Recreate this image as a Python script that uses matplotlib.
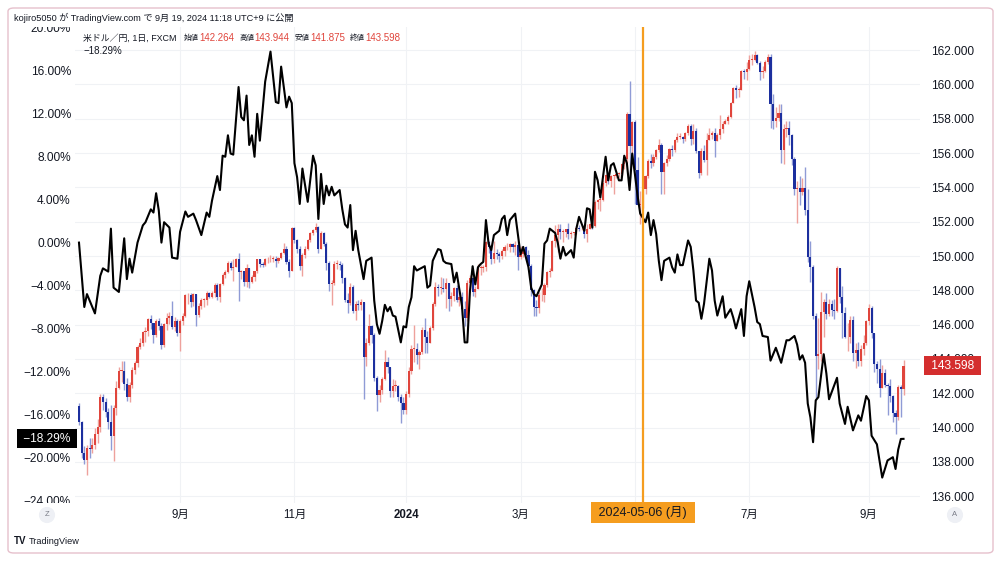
import numpy as np
import pandas as pd
import matplotlib
matplotlib.use("Agg")
import matplotlib.pyplot as plt
import matplotlib.transforms as mtransforms
from matplotlib.patches import Rectangle, FancyBboxPatch

FONTS = ["Liberation Sans", "Noto Sans CJK JP", "DejaVu Sans"]
plt.rcParams["font.family"] = FONTS

# ---------------- data ----------------
start_date = "2023-07-11"
end_date = "2024-09-19"
closed_days = ["2023-12-25", "2024-01-01"]

# USD/JPY daily (FXCM) close / high / low, one row per week
close = [
    140.30, 138.50, 138.10, 138.80,
    138.75, 139.00, 139.65, 140.05, 141.80,
    141.50, 140.90, 140.30, 139.50, 141.15,
    142.30, 143.30, 143.30, 142.55, 141.75,
    142.45, 143.35, 143.75, 144.70, 144.95,
    145.55, 145.60, 146.35, 146.10, 145.40,
    146.20, 145.90, 144.80, 146.05, 146.40,
    146.50, 145.85, 146.20, 145.50, 146.20,
    146.50, 147.70, 147.70, 147.30, 147.80,
    146.55, 147.10, 147.45, 147.45, 147.85,
    147.60, 147.85, 148.30, 147.60, 148.35,
    148.90, 149.05, 149.60, 149.30, 149.35,
    149.85, 149.05, 149.10, 148.50, 149.30,
    148.50, 148.75, 149.10, 149.80, 149.55,
    149.50, 149.80, 149.80, 149.85, 149.85,
    149.70, 149.90, 150.20, 150.40, 149.65,
    149.10, 151.65, 150.95, 150.40, 149.40,
    150.05, 150.40, 150.95, 151.35, 151.50,
    151.70, 150.40, 151.35, 150.70, 149.60,
    148.35, 148.40, 149.55, 149.55, 149.45,
    148.70, 147.45, 147.25, 148.20, 146.80,
    147.20, 147.15, 147.30, 144.10, 144.90,
    145.90, 145.40, 142.90, 141.90, 142.20,
    142.80, 143.80, 143.50, 142.15, 142.40,
    142.40, 141.80, 141.40, 141.00,
    141.95, 143.30, 144.60, 144.60,
    144.25, 144.40, 145.70, 145.30, 144.90,
    145.80, 147.20, 148.20, 148.15, 148.15,
    148.10, 148.40, 147.50, 147.65, 148.15,
    147.45, 147.60, 146.90, 146.40, 148.40,
    148.70, 147.90, 148.10, 149.30, 149.30,
    149.35, 150.80, 150.55, 149.80, 150.20,
    150.10, 150.00, 150.30, 150.50, 150.50,
    150.70, 150.50, 150.65, 149.95, 150.10,
    150.50, 150.05, 149.40, 148.00, 147.05,
    146.95, 147.70, 147.75, 148.30, 149.05,
    149.15, 150.85, 151.25, 151.60, 151.40,
    151.40, 151.55, 151.30, 151.35, 151.35,
    151.65, 151.55, 151.60, 151.30, 151.60,
    151.85, 151.75, 153.15, 153.25, 153.25,
    154.25, 154.70, 154.35, 154.65, 154.65,
    154.80, 154.80, 155.35, 155.65, 158.30,
    156.40, 157.80, 155.00, 153.00, 153.00,
    153.90, 154.65, 155.55, 155.45, 155.75,
    156.20, 156.45, 154.90, 155.40, 155.65,
    156.25, 156.20, 156.75, 156.95, 156.95,
    156.85, 157.15, 157.60, 156.80, 157.30,
    156.10, 154.85, 156.10, 155.60, 156.75,
    157.05, 157.20, 156.70, 157.05, 157.40,
    157.70, 157.85, 158.10, 158.95, 159.80,
    159.70, 159.70, 160.80, 160.75, 160.90,
    161.45, 161.45, 161.70, 161.25, 160.70,
    160.80, 161.30, 161.60, 158.85, 157.90,
    158.05, 158.35, 156.20, 157.40, 157.45,
    157.05, 155.65, 153.90, 153.95, 153.75,
    153.95, 152.70, 149.95, 149.35, 146.50,
    144.15, 144.30, 146.75, 147.30, 146.60,
    147.20, 146.85, 146.80, 149.30, 147.60,
    146.65, 145.25, 145.25, 146.25, 144.35,
    144.50, 143.90, 144.60, 144.95, 146.20,
    146.95, 145.50, 143.70, 143.40, 142.30,
    143.15, 142.45, 142.40, 141.85, 140.85,
    140.60, 142.35, 142.26, 143.598,
]
high = [
    141.40, 140.40, 138.90, 139.00,
    139.40, 139.40, 139.95, 140.50, 141.95,
    141.95, 141.70, 141.15, 141.30, 141.30,
    142.70, 143.55, 143.90, 143.90, 142.90,
    142.65, 143.50, 143.90, 144.80, 145.20,
    145.60, 145.85, 146.40, 146.55, 146.10,
    146.30, 146.40, 146.10, 146.10, 146.65,
    146.75, 147.35, 146.45, 146.30, 146.30,
    146.70, 147.80, 147.85, 147.85, 147.85,
    147.45, 147.25, 147.55, 147.55, 147.95,
    147.90, 147.95, 148.45, 148.45, 148.45,
    149.00, 149.20, 149.70, 149.70, 149.80,
    149.90, 150.15, 149.20, 149.05, 149.55,
    149.20, 148.90, 149.15, 149.85, 149.85,
    149.65, 149.90, 149.95, 150.05, 150.00,
    150.00, 149.95, 150.25, 150.75, 150.60,
    149.80, 151.70, 151.70, 151.00, 150.60,
    150.15, 150.60, 151.00, 151.40, 151.60,
    151.90, 151.75, 151.45, 151.40, 150.80,
    149.70, 148.60, 149.70, 149.75, 149.70,
    149.60, 148.80, 147.85, 148.40, 148.30,
    147.35, 147.45, 147.50, 147.30, 145.20,
    146.60, 146.00, 145.50, 143.00, 142.50,
    142.95, 144.50, 144.10, 143.55, 142.80,
    142.75, 142.45, 141.95, 141.75,
    142.15, 143.55, 144.80, 145.98,
    144.90, 144.50, 145.85, 146.40, 145.60,
    145.90, 147.30, 148.50, 148.35, 148.80,
    148.70, 148.70, 148.20, 147.90, 148.20,
    148.30, 147.90, 147.90, 147.40, 148.60,
    148.90, 148.80, 148.25, 149.55, 149.45,
    149.50, 150.90, 150.85, 150.60, 150.85,
    150.40, 150.25, 150.40, 150.65, 150.75,
    150.75, 150.75, 150.85, 150.85, 150.60,
    150.55, 150.60, 150.35, 149.55, 148.10,
    147.45, 147.90, 148.15, 148.40, 149.15,
    149.30, 150.95, 151.80, 151.85, 151.85,
    151.55, 151.60, 151.95, 151.45, 151.40,
    151.75, 151.80, 151.75, 151.70, 151.85,
    151.95, 151.90, 153.25, 153.30, 153.40,
    154.45, 154.80, 154.75, 154.70, 154.70,
    154.85, 154.90, 155.40, 155.75, 158.40,
    160.20, 157.85, 157.95, 155.80, 153.80,
    154.00, 154.75, 155.65, 155.95, 155.95,
    156.25, 156.80, 156.60, 155.50, 155.90,
    156.30, 156.45, 156.85, 157.20, 157.15,
    157.00, 157.25, 157.70, 157.70, 157.70,
    157.45, 156.15, 156.30, 156.50, 157.15,
    157.45, 157.30, 157.45, 157.20, 158.25,
    157.85, 158.00, 158.20, 159.00, 159.85,
    159.95, 159.85, 160.85, 160.90, 161.30,
    161.70, 161.75, 161.95, 161.75, 161.35,
    161.05, 161.40, 161.80, 161.75, 159.45,
    158.70, 158.85, 158.85, 157.70, 157.85,
    157.85, 157.10, 155.75, 154.40, 154.65,
    154.55, 155.20, 153.90, 150.90, 149.50,
    146.70, 146.40, 147.90, 147.50, 147.85,
    147.50, 147.45, 147.50, 149.40, 149.20,
    148.25, 147.00, 146.10, 146.50, 146.50,
    144.90, 145.00, 144.80, 145.40, 146.25,
    147.20, 147.10, 145.45, 143.85, 144.00,
    143.65, 143.40, 142.60, 142.85, 141.90,
    141.00, 142.45, 142.50, 143.944,
]
low = [
    140.15, 138.20, 137.90, 137.25,
    138.20, 138.50, 138.75, 139.10, 139.75,
    141.00, 140.60, 139.90, 138.70, 138.05,
    140.70, 142.25, 142.65, 142.20, 141.55,
    141.50, 142.30, 143.10, 143.50, 144.55,
    144.75, 145.00, 145.35, 145.75, 144.95,
    145.30, 145.70, 144.55, 144.70, 145.70,
    146.05, 145.75, 145.60, 145.35, 144.45,
    145.95, 146.45, 147.20, 147.00, 147.10,
    145.90, 146.45, 146.90, 147.05, 147.15,
    147.55, 147.55, 147.60, 147.45, 147.30,
    148.30, 148.70, 149.00, 149.20, 148.55,
    149.35, 147.40, 148.65, 148.25, 148.20,
    148.15, 148.40, 148.55, 149.00, 149.35,
    149.35, 149.40, 149.60, 149.65, 149.65,
    149.35, 149.60, 149.80, 150.10, 149.55,
    148.80, 149.20, 150.75, 150.15, 149.20,
    148.85, 149.90, 150.35, 150.80, 151.20,
    151.40, 150.15, 150.45, 150.60, 149.20,
    147.95, 147.15, 148.30, 149.25, 149.20,
    148.45, 147.30, 146.70, 147.15, 146.70,
    146.25, 146.85, 146.85, 141.65, 143.60,
    144.80, 144.95, 142.70, 140.95, 141.50,
    141.95, 142.75, 143.15, 141.80, 141.75,
    142.10, 141.55, 140.25, 140.80,
    140.80, 141.80, 143.10, 143.80,
    143.70, 143.40, 144.30, 144.35, 144.35,
    144.90, 145.70, 147.10, 147.65, 147.80,
    147.90, 146.95, 146.80, 147.10, 147.40,
    147.30, 147.10, 146.55, 145.90, 146.20,
    148.05, 147.65, 147.60, 148.05, 148.90,
    149.05, 149.15, 150.20, 149.55, 149.60,
    149.85, 149.65, 149.80, 150.00, 150.35,
    150.25, 150.25, 150.05, 149.20, 149.85,
    149.95, 149.85, 149.25, 147.65, 146.50,
    146.50, 146.65, 147.35, 147.30, 148.20,
    148.80, 149.15, 150.55, 150.25, 151.00,
    150.80, 151.10, 151.00, 151.05, 151.20,
    151.30, 151.45, 151.50, 151.05, 150.80,
    151.55, 151.60, 151.70, 152.75, 152.60,
    153.20, 154.10, 154.20, 154.05, 153.60,
    154.55, 154.60, 154.75, 155.10, 155.40,
    154.55, 155.70, 153.05, 152.95, 151.85,
    152.80, 153.60, 154.55, 155.15, 155.25,
    155.65, 156.05, 153.60, 153.60, 155.25,
    155.55, 155.85, 156.05, 156.65, 156.80,
    156.60, 156.70, 157.05, 156.45, 156.55,
    156.00, 154.55, 154.75, 155.50, 154.75,
    156.80, 156.80, 155.75, 156.75, 156.85,
    157.15, 157.70, 157.70, 158.05, 158.90,
    159.20, 159.30, 159.65, 160.30, 160.25,
    160.85, 161.15, 161.35, 161.20, 160.25,
    160.40, 160.75, 161.20, 157.45, 157.40,
    157.55, 157.85, 155.40, 155.35, 156.95,
    156.50, 155.30, 153.55, 151.95, 153.00,
    153.55, 152.40, 149.65, 148.50, 146.30,
    141.70, 143.40, 143.85, 145.30, 146.30,
    146.50, 146.50, 146.30, 146.75, 147.25,
    145.20, 145.20, 144.45, 144.95, 143.85,
    143.45, 143.60, 143.60, 144.25, 144.80,
    145.95, 145.20, 143.25, 142.60, 141.75,
    142.40, 142.35, 140.70, 141.50, 140.30,
    139.60, 140.45, 140.60, 141.875,
]
first_open = 141.25
last_open = 142.264

# comparison symbol (% change), trading-day number -> value
cmp_bar = [0, 2, 3, 6, 8, 9, 11, 12, 13, 15, 17, 18, 19, 20, 22, 24, 25, 27, 28, 29,
           30, 31, 32, 34, 35, 37, 38, 40, 41, 43, 44, 46, 48, 49, 50, 52, 53, 54, 55, 56,
           57, 58, 60, 61, 62, 63, 64, 65, 66, 67, 68, 70, 72, 74, 75, 76, 78, 79, 80, 81,
           82, 83, 84, 86, 88, 89, 90, 91, 92, 93, 94, 95, 96, 98, 99, 100, 101, 102, 103, 104,
           105, 107, 108, 110, 111, 112, 113, 114, 115, 116, 117, 118, 119, 121, 122, 123, 124, 125, 126, 127,
           130, 131, 132, 133, 135, 136, 137, 138, 140, 141, 142, 144, 145, 146, 147, 148, 149, 150, 151, 152,
           153, 154, 155, 156, 158, 159, 160, 161, 162, 164, 165, 166, 167, 169, 170, 171, 172, 174, 175, 176,
           177, 179, 180, 181, 182, 183, 185, 186, 187, 188, 190, 191, 192, 193, 194, 195, 196, 198, 199, 200,
           201, 203, 204, 205, 206, 207, 208, 209, 210, 211, 213, 214, 215, 216, 217, 218, 219, 220, 222, 223,
           224, 225, 226, 227, 229, 230, 231, 232, 233, 234, 235, 237, 238, 239, 240, 242, 243, 245, 246, 247,
           249, 250, 251, 252, 254, 255, 256, 257, 259, 260, 262, 264, 266, 267, 269, 270, 271, 272, 273, 274,
           275, 276, 277, 278, 280, 281, 282, 285, 286, 288, 289, 291, 293, 294, 296, 297, 298, 300, 302, 304,
           306, 307, 308, 309, 310]
cmp_pct = [0.0, -6.0, -4.8, -6.6, -3.1, -2.4, -2.7, 1.3, -4.2, -4.6, 0.4, -3.4, -1.5, -2.8, 0.0, 1.6, 1.9, 3.1, 2.8, 4.6,
           3.0, 0.0, 1.9, 1.4, -1.4, -1.5, 1.0, 2.9, 2.4, 2.7, 2.1, 0.7, 2.8, 2.4, 3.9, 6.2, 4.9, 8.1, 8.0, 10.0,
           8.3, 8.2, 14.5, 11.7, 11.4, 13.7, 9.1, 10.0, 8.0, 12.0, 9.5, 15.0, 17.8, 13.1, 13.0, 16.4, 12.6, 13.6, 13.0, 7.4,
           6.1, 3.6, 6.9, 3.8, 8.1, 7.2, 2.2, 6.4, 3.6, 5.3, 4.4, 5.2, 4.4, 4.9, 3.1, 1.7, 1.4, 3.5, -0.7, 1.1,
           -0.7, -3.4, -1.7, -1.4, -5.4, -7.6, -8.5, -7.3, -5.8, -6.4, -6.0, -6.8, -6.9, -9.3, -7.8, -7.9, -6.0, -5.1, -2.2, -2.6,
           -2.2, -4.2, -4.0, -1.7, -0.6, -0.7, -1.7, -1.9, -2.0, -3.7, -2.8, -5.9, -9.3, -9.3, -4.5, -2.2, -3.9, -2.3, -2.0, -1.8,
           2.1, -0.1, -0.7, 0.7, 1.1, 2.2, 2.5, 0.7, 2.1, 2.7, 0.8, -1.1, -0.4, -2.3, -4.2, -4.8, -5.0, -3.9, -0.1, 0.2,
           1.3, 0.9, 0.0, -1.5, -0.4, -1.2, -0.7, -1.4, 1.3, 2.4, 1.1, 3.2, 3.1, 1.4, 6.6, 5.8, 4.2, 8.0, 5.8, 7.2,
           7.4, 5.8, 5.8, 8.1, 7.4, 4.9, 8.3, 6.4, 4.4, 2.7, 1.9, 2.8, 0.7, 2.1, 0.8, -1.7, -3.5, -1.7, -1.4, -2.3,
           -2.8, -1.1, -2.1, -2.1, 0.2, -0.4, -2.6, -5.4, -5.6, -7.1, -5.7, -1.5, -2.6, -5.4, -6.8, -5.0, -7.0, -6.2, -7.0, -8.0,
           -6.2, -8.7, -5.0, -3.6, -6.0, -7.4, -7.6, -8.7, -8.8, -11.0, -9.8, -11.2, -9.1, -9.1, -8.7, -9.5, -10.9, -10.5, -11.2, -15.0,
           -16.3, -18.6, -14.7, -14.4, -10.4, -12.2, -14.6, -12.6, -15.0, -16.9, -15.3, -17.5, -16.1, -16.6, -14.3, -14.7, -18.0, -18.8, -21.9, -20.3,
           -20.0, -21.1, -19.3, -18.3, -18.29]

pct_ticks = list(range(-24, 21, 4))
price_ticks = list(range(136, 163, 2))
month_starts = ["2023-09", "2023-11", "2024-01", "2024-03", "2024-05", "2024-07", "2024-09"]
month_labels = ["9月", "11月", "2024", "3月", "5月", "7月", "9月"]
marker_date = "2024-05-06"
marker_label = " 2024-05-06 (月) "
header_text = "kojiro5050 が TradingView.com で 9月 19, 2024 11:18 UTC+9 に公開"
symbol_text = "米ドル／円, 1日, FXCM"
ohlc_names = ["始値", "高値", "安値", "終値"]
ohlc_values = ["142.264", "143.944", "141.875", "143.598"]
cmp_label = "−18.29%"
price_label = "143.598"

# ---------------- colours ----------------
UP, DOWN = "#e0453c", "#1c2f9e"
UP_W, DOWN_W = "#eea19c", "#8f9bd6"
TXT = "#131722"
ORANGE = "#f59d1f"
GRID = "#f0f2f5"

# ---------------- build ----------------
dates = pd.bdate_range(start_date, end_date)
dates = dates[~dates.isin(pd.to_datetime(closed_days))]
n = min(len(dates), len(close), len(high), len(low))
dates = dates[:n]
c = np.array(close[:n])
o = np.concatenate([[first_open], c[:-1]])
o[-1] = last_open
h = np.maximum(np.array(high[:n]), np.maximum(o, c))
l = np.minimum(np.array(low[:n]), np.minimum(o, c))
idx = np.arange(n)
up = c >= o

W, H = 1000, 561
fig = plt.figure(figsize=(W / 100, H / 100), dpi=100)
fig.patch.set_facecolor("white")


def fx(px):
    return px / W


def fy(py):
    return 1 - py / H


ax = fig.add_axes([fx(75), fy(503), fx(920) - fx(75), fy(22) - fy(503)])
ax.set_xlim(-1.5, 316.2)
ax.set_ylim(135.598, 163.644)
ax2 = ax.twinx()
ax2.set_ylim(-24.268, 20.559)

for a in (ax, ax2):
    for s in a.spines.values():
        s.set_visible(False)

# grid
month_idx = [int(np.searchsorted(dates, pd.Timestamp(m + "-01"))) for m in month_starts]
ax.set_xticks(month_idx)
ax.set_yticks(price_ticks)
ax.grid(True, color=GRID, lw=0.8)
ax.set_axisbelow(True)
ax.tick_params(axis="x", length=0, labelbottom=False)

# price axis on the right
ax.yaxis.tick_right()
ax.set_yticklabels([f"{v:.3f}" for v in price_ticks])
ax.tick_params(axis="y", length=0, pad=8, labelsize=8.6, labelcolor=TXT)

# percent axis on the left
ax2.yaxis.tick_left()
ax2.set_yticks(pct_ticks)
ax2.set_yticklabels([f"{v:.2f}%".replace("-", "−") for v in pct_ticks])
ax2.tick_params(axis="y", length=0, pad=3, labelsize=8.6, labelcolor=TXT)

# candles
ax.vlines(idx[up], l[up], h[up], color=UP_W, lw=1.0, zorder=2)
ax.vlines(idx[~up], l[~up], h[~up], color=DOWN_W, lw=1.0, zorder=2)
body_h = np.maximum(np.abs(c - o), 0.05)
body_b = np.minimum(o, c)
ax.bar(idx[up], body_h[up], bottom=body_b[up], width=0.8, color=UP, lw=0, zorder=3)
ax.bar(idx[~up], body_h[~up], bottom=body_b[~up], width=0.8, color=DOWN, lw=0, zorder=3)

# comparison line
ax2.plot(cmp_bar, cmp_pct, color="black", lw=1.5, zorder=4, solid_joinstyle="round")

# crosshair
m_i = int(np.searchsorted(dates, pd.Timestamp(marker_date)))
ax2.axvline(m_i, color=ORANGE, lw=1.6, zorder=5)

# white bands (header / time axis)
fig.add_artist(Rectangle((fx(9), fy(27)), fx(991) - fx(9), 18 / H, transform=fig.transFigure,
                         facecolor="white", edgecolor="none", zorder=1))
fig.add_artist(Rectangle((fx(9), fy(552)), fx(991) - fx(9), (552 - 503) / H, transform=fig.transFigure,
                         facecolor="white", edgecolor="none", zorder=1))

# x labels (the one under the crosshair label is covered, as in TradingView)
bt = mtransforms.blended_transform_factory(ax.transData, fig.transFigure)
for mi, lab in zip(month_idx, month_labels):
    if abs(mi - m_i) < 20:
        continue
    fig.text(mi, fy(515), lab, transform=bt, ha="center", va="center", fontsize=8.3, color=TXT,
             fontweight="bold" if lab.isdigit() else "normal", zorder=3)
fig.text(m_i, fy(512.5), marker_label, transform=bt, ha="center", va="center", fontsize=9, color=TXT,
         bbox=dict(boxstyle="square,pad=0.33", fc=ORANGE, ec="none"), zorder=6)

# last value labels
bt2 = mtransforms.blended_transform_factory(fig.transFigure, ax2.transData)
fig.text(fx(47), cmp_pct[-1], " " + cmp_label + " ", transform=bt2, ha="center", va="center", fontsize=8.6,
         color="white", bbox=dict(boxstyle="square,pad=0.3", fc="black", ec="none"), zorder=6)
bt3 = mtransforms.blended_transform_factory(fig.transFigure, ax.transData)
fig.text(fx(952.5), c[-1], " " + price_label + " ", transform=bt3, ha="center", va="center", fontsize=8.6,
         color="white", bbox=dict(boxstyle="square,pad=0.3", fc="#d42e2e", ec="none"), zorder=6)

# header
fig.text(fx(14), fy(17.5), header_text, ha="left", va="center", fontsize=6.6, color=TXT, zorder=3)

# legend (chained texts)
renderer = fig.canvas.get_renderer()
t = fig.text(fx(83), fy(38), symbol_text, ha="left", va="center", fontsize=6.4, color=TXT, zorder=3)
xpos = t.get_window_extent(renderer).x1 + 7
for nm, val in zip(ohlc_names, ohlc_values):
    t = fig.text(xpos / W, fy(38), nm, ha="left", va="center", fontsize=5.4, color=TXT, zorder=3)
    xpos = t.get_window_extent(renderer).x1 + 0.5
    t = fig.text(xpos / W, fy(38), val, ha="left", va="center", fontsize=7, color="#e0453c", zorder=3)
    xpos = t.get_window_extent(renderer).x1 + 5
fig.text(fx(83), fy(51), cmp_label, ha="left", va="center", fontsize=7, color=TXT, zorder=3)

# Z / A buttons
for xp, s in ((47, "Z"), (955, "A")):
    fig.text(fx(xp), fy(515), s, ha="center", va="center", fontsize=5.5, color="#787b86",
             bbox=dict(boxstyle="circle,pad=0.6", fc="#eef0f5", ec="none"), zorder=3)

# bottom logo
fig.text(fx(14), fy(541), "TV", ha="left", va="center", fontsize=7, fontweight="bold", color=TXT, zorder=3)
fig.text(fx(29), fy(541), "TradingView", ha="left", va="center", fontsize=6.6, color=TXT, zorder=3)

# outer frame
fig.add_artist(FancyBboxPatch((fx(8), fy(553)), fx(993) - fx(8), (553 - 8) / H,
                              boxstyle="round,pad=0,rounding_size=0.006", transform=fig.transFigure,
                              facecolor="none", edgecolor="#e6c0cc", lw=1.0, zorder=7))

fig.savefig("out.png", dpi=100, facecolor="white")
